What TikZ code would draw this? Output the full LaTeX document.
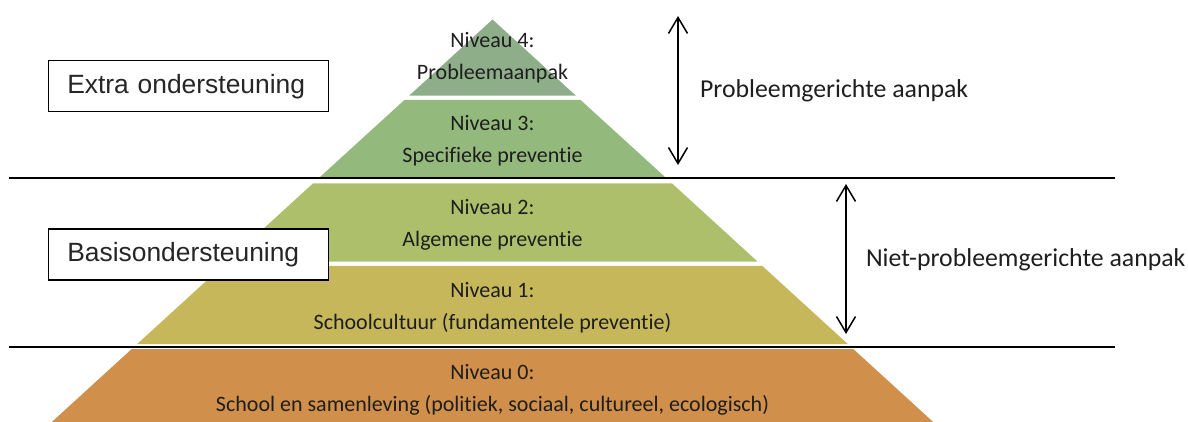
\documentclass[tikz,border=0pt]{standalone}
\usepackage{fontspec}
\setmainfont{Carlito}[Ligatures=NoCommon]
\newfontfamily\boxfont{Liberation Sans}
\usepackage{tikz}
\usetikzlibrary{positioning}
\usetikzlibrary{arrows.meta}

\definecolor{lvlfour}{HTML}{8DAE88}
\definecolor{lvlthree}{HTML}{93B97C}
\definecolor{lvltwo}{HTML}{ADBF6B}
\definecolor{lvlone}{HTML}{C6B85A}
\definecolor{lvlzero}{HTML}{D08F4A}
\definecolor{txt}{HTML}{1E1E1E}

\begin{document}
\begin{tikzpicture}
    [x=0.5pt, y=-0.5pt, every node/.style={text=txt},
    level/.style={align=center, font=\fontsize{11}{16}\selectfont},
    supportbox/.style={draw=black, line width=0.75pt, fill=white, text width=121pt,
      inner xsep=9.5pt, minimum height=25.5pt, align=left,
      font=\boxfont\fontsize{13.2}{15}\selectfont, text=black!85},
    approach/.style={anchor=west, font=\fontsize{12.9}{15}\selectfont},
    span/.style={{Straight Barb[length=8pt,width=9.5pt]}-{Straight Barb[length=8pt,width=9.5pt]}, line width=0.75pt},
    divider/.style={line width=1pt}]

    \useasboundingbox (0,0) rectangle (1188,422);

    % Draw the pyramid
    \fill[lvlfour] (492.5,19.5) -- (575.9,95.7) -- (409.1,95.7) -- cycle;
    \fill[lvlthree] (404.4,100) -- (580.6,100) -- (665.0,177) -- (320.0,177) -- cycle;
    \fill[lvltwo] (313.1,183.3) -- (671.9,183.3) -- (757.7,261.7) -- (227.3,261.7) -- cycle;
    \fill[lvlone] (222.6,266) -- (762.4,266) -- (847.8,344) -- (137.2,344) -- cycle;
    \fill[lvlzero] (131.7,349) -- (853.3,349) -- (933.2,422) -- (51.8,422) -- cycle;

    \node[level] (niv4) at (492.5,58) {Niveau 4:\\Probleemaanpak};
    \node[level] (niv3) at (492.5,140.5) {Niveau 3:\\Specifieke preventie};
    \node[level] (niv2) at (492.5,224.5) {Niveau 2:\\Algemene preventie};
    \node[level] (niv1) at (492.5,308) {Niveau 1:\\Schoolcultuur (fundamentele preventie)};
    \node[level] (niv0) at (492.5,389.5) {Niveau 0:\\School en samenleving (politiek, sociaal, cultureel, ecologisch)};

    % Draw the dividers
    \coordinate (upL) at (9,178.5);
    \coordinate (upR) at (1115,178.5);
    \coordinate (lowL) at (9,346.7);
    \coordinate (lowR) at (1115,346.7);
    \draw[divider] (upL) -- (upR);
    \draw[divider] (lowL) -- (lowR);

    % Boxes
    \node[supportbox] (extra) at (188.3,86.2) {Extra ondersteuning};
    \node[supportbox] (basis) at (188.3,254.5) {Basisondersteuning};

    % Arrows and labels
    \coordinate (probTop) at (678,16);
    \coordinate (probBot) at (678,165);
    \coordinate (nietTop) at (846,184);
    \coordinate (nietBot) at (846,334);
    \draw[span] (probTop) -- (probBot);
    \draw[span] (nietTop) -- (nietBot);
    \node[approach] (prob) at (693,91) {Probleemgerichte aanpak};
    \node[approach] (niet) at (859,259.5) {Niet-probleemgerichte aanpak};

  \end{tikzpicture}
\end{document}
